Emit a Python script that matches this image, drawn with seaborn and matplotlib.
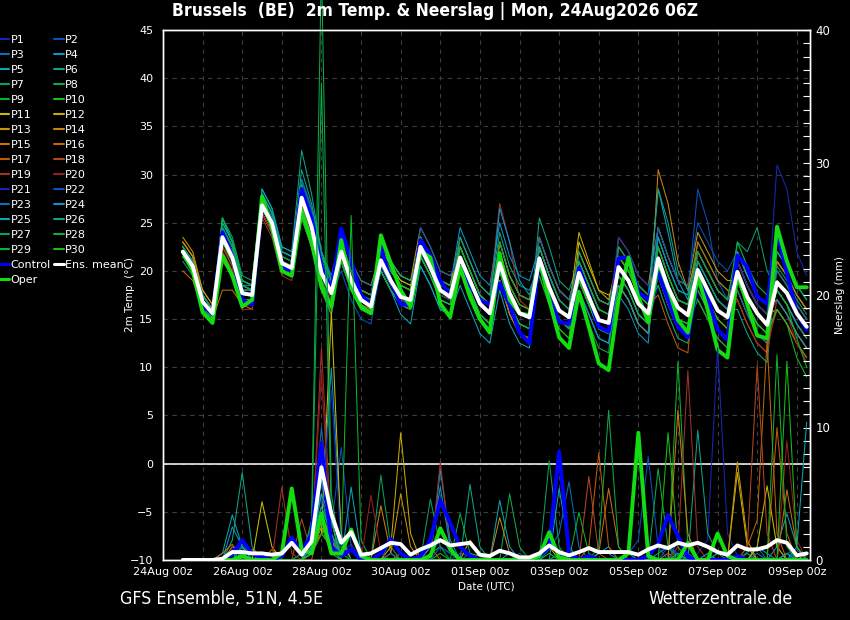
import numpy as np
import pandas as pd
import matplotlib
matplotlib.use("Agg")
import matplotlib.pyplot as plt
import matplotlib.dates as mdates
from matplotlib.ticker import MultipleLocator
from matplotlib.lines import Line2D
import seaborn as sns

# ---------------- data ----------------
TIMES = pd.date_range("2026-08-24 12:00", periods=64, freq="6h")
TICK_DATES = pd.to_datetime(["2026-08-24", "2026-08-26", "2026-08-28", "2026-08-30",
                             "2026-09-01", "2026-09-03", "2026-09-05", "2026-09-07",
                             "2026-09-09"])

T_P1 = [22,20.5,17,15.5, 24,22,18,18, 27.5,25.5,21.5,21, 28.5,25.5,21,18.5, 23,20,18,17.5, 20,18,16.5,16, 22.5,20.5,18,17.5, 20.5,18,15.5,14.5, 19,15.5,13.5,13, 22.5,19.5,17,16, 22,19.5,17,16.5, 19.5,18,15.5,14.5, 18.5,15.5,13,12.5, 21,19,17,16, 23,20.5,18.5,17.5, 21,19.5,17.5,16]
T_P2 = [22.5,21,17.5,16, 23.5,21.5,17.5,17.5, 26.5,24.5,20.5,20, 27.5,24.5,20,17.5, 21,18,16,15.5, 21,19,17.5,17, 23.5,21.5,19,18.5, 22.5,20,17.5,16.5, 23,19.5,17.5,17, 21.5,18.5,16,15, 19,16.5,14,13.5, 21.5,20,17.5,16.5, 23.5,20.5,18,17.5, 28.5,25,19,17, 21,18.5,16.5,15.5, 17,15.5,13.5,12]
T_P3 = [21.5,20,16.5,15, 24.5,22.5,18.5,18, 27,25,21,20.5, 26.5,23.5,19,16.5, 22,19,17,16.5, 22,20,18.5,18, 23,21,18.5,18, 20,17.5,15,14, 22,18.5,16.5,16, 23.5,20.5,18,17, 21,18.5,16,15.5, 18.5,17,14.5,13.5, 21.5,18.5,16,15.5, 19,17,15,14, 22,19.5,17.5,16.5, 18,16.5,14.5,13]
T_P4 = [22.5,21,17.5,16, 25,23,19,18.5, 28,26,22,21.5, 29.5,26.5,22,19.5, 21,18,16,15.5, 20,18,16.5,16, 23.5,21.5,19,18.5, 24.5,22,19.5,18.5, 25,21.5,19.5,19, 22.5,19.5,17,16, 18,15.5,13,12.5, 17.5,16,13.5,12.5, 24.5,21.5,19,18.5, 17,15,13,12, 21,18.5,16.5,15.5, 22,20.5,18.5,17]
T_P5 = [22,20.5,17,15.5, 23,21,17,17, 28,26,22,21.5, 28.5,25.5,21,18.5, 22,19,17,16.5, 20,18,16.5,16, 20.5,18.5,16,15.5, 18.5,16,13.5,12.5, 18,14.5,12.5,12, 22.5,19.5,17,16, 20,17.5,15,14.5, 22.5,21,18.5,17.5, 28.5,24,19,17, 22,20,18,17, 19,16.5,14.5,13.5, 16,14.5,12.5,11]
T_P6 = [22.5,21,17.5,16, 25.5,23.5,19.5,19, 28.5,26.5,22.5,22, 32.5,28,22,19, 22,19,17,16.5, 22,20,18.5,18, 23.5,21.5,19,18.5, 23.5,21,18.5,17.5, 20,16.5,14.5,14, 25.5,22.5,19,18, 21,18.5,16,15.5, 19.5,18,15.5,14.5, 19.5,16.5,14,13.5, 21,19,17,16, 16,13.5,11.5,10.5, 21,19.5,17.5,16]
T_P7 = [21.5,20,16.5,15, 24.5,22.5,18.5,18, 26,24,20,19.5, 28.5,25.5,21,18.5, 21,18,16,15.5, 23,21,19.5,19, 22.5,20.5,18,17.5, 21.5,19,16.5,15.5, 22,18.5,16.5,16, 20.5,17.5,15,14, 22,19.5,17,16.5, 21.5,20,17.5,16.5, 21.5,18.5,16,15.5, 18,16,14,13, 23,22,24.5,20, 18,16.5,14.5,13]
T_P8 = [22.5,21,17.5,16, 25.5,23,19,18.5, 27,25,21,20.5, 29,26,21.5,19, 21,18,16,15.5, 21,19,17.5,17, 21.5,19.5,17,16.5, 23.5,21,18.5,17.5, 19,15.5,13.5,13, 21.5,18.5,16,15, 17,14.5,12,11.5, 21.5,20,17.5,16.5, 18.5,15.5,13,12.5, 19,17,15,14, 21,18.5,16.5,15.5, 17,15.5,13.5,12]
T_P9 = [22,20.5,17,15.5, 24.5,22.5,18.5,18.5, 28,26,22,21.5, 27.5,24.5,20,17.5, 23,20,18,17.5, 22.5,20.5,19,18.5, 23.5,21.5,19,18.5, 20.5,18,15.5,14.5, 22,18.5,16.5,16, 19.5,16.5,14,13, 21,18.5,16,15.5, 20.5,19,16.5,15.5, 23.5,20.5,18,17.5, 23,21,19,18, 18,15.5,13.5,12.5, 19,17.5,15.5,14]
T_P10 = [21.5,20,16.5,15, 22.5,20.5,16.5,16.5, 27.5,25.5,21.5,21, 26.5,23.5,19,16.5, 22,19,17,16.5, 20.5,18.5,17,16.5, 23,21,18.5,18, 22.5,20,17.5,16.5, 20,16.5,14.5,14, 22.5,19.5,17,16, 19,16.5,14,13.5, 18.5,17,14.5,13.5, 22.5,19.5,17,16.5, 17,15,13,12, 22,19.5,17.5,16.5, 20,18.5,16.5,15]
T_P11 = [23,21.5,17.5,16, 24.5,22.5,18.5,18, 26.5,24.5,20.5,20, 26.5,23.5,19,16.5, 23,20,18,17.5, 22.5,20.5,19,18.5, 22,20,17.5,17, 21.5,19,16.5,15.5, 23,19.5,17.5,17, 20.5,17.5,15,14, 23,20.5,18,17.5, 18.5,17,14.5,13.5, 22.5,19.5,17,16.5, 22,20,18,17, 19,16.5,14.5,13.5, 21,19.5,17.5,16]
T_P12 = [23,21.5,18,16.5, 23.5,21.5,17.5,17.5, 26,24,20,19.5, 25.5,22.5,18,15.5, 24,21,19,18.5, 22,20,18.5,18, 23.5,21.5,19,18.5, 22.5,20,17.5,16.5, 19,15.5,13.5,13, 22.5,19.5,17,16, 24,21,18,17, 21.5,20,17.5,16.5, 19.5,16.5,14,13.5, 19,17,15,14, 21,18.5,16.5,15.5, 16,14.5,12.5,11]
T_P13 = [23.5,22,18,16.5, 24,22,18,18, 27,25,21,20.5, 26.5,23.5,19,16.5, 23,20,18,17.5, 23,21,19.5,19, 24.5,22.5,20,19.5, 20.5,18,15.5,14.5, 23,19.5,17.5,17, 21.5,18.5,16,15, 19,16.5,14,13.5, 23.5,22,19.5,18.5, 24.5,21.5,19,18.5, 24,22,20,19, 19,16.5,14.5,13.5, 19,17.5,15.5,14]
T_P14 = [23,21.5,17.5,16, 24,22,18,18, 26,24,20,19.5, 26,23,18.5,16, 21.5,18.5,16.5,16, 22,20,18.5,18, 23.5,21.5,19,18.5, 21.5,19,16.5,15.5, 20,16.5,14.5,14, 21.5,18.5,16,15, 22,19.5,17,16.5, 18.5,17,14.5,13.5, 30.5,27,21,18, 22,20,18,17, 20,17.5,15.5,14.5, 18,16.5,14.5,13]
T_P15 = [20,19,16,15, 18,18,16.5,16, 26,24,20,19.5, 26.5,23.5,19,16.5, 23,20,18,17.5, 20,18,16.5,16, 23.5,21.5,19,18.5, 21.5,19,16.5,15.5, 19,15.5,13.5,13, 23.5,20.5,18,17, 21,18.5,16,15.5, 19.5,18,15.5,14.5, 21.5,18.5,16,15.5, 23,21,19,18, 17,14.5,12.5,11.5, 21,19.5,17.5,16]
T_P16 = [21.5,20,16.5,15, 22,20,16,16, 26,24,20,19.5, 25.5,22.5,18,15.5, 22,19,17,16.5, 22,20,18.5,18, 22,20,17.5,17, 22.5,20,17.5,16.5, 22,18.5,16.5,16, 20.5,17.5,15,14, 21,18.5,16,15.5, 22.5,21,18.5,17.5, 19.5,16.5,14,13.5, 19,17,15,14, 22,19.5,17.5,16.5, 20,18.5,16.5,15]
T_P17 = [22.5,20.5,16.5,15, 21,19.5,16.5,16.5, 26,24,20,19.5, 26.5,23.5,19,16.5, 22,19,17,16.5, 22,20,18.5,18, 22.5,20.5,18,17.5, 20.5,18,15.5,14.5, 21,17.5,15.5,15, 23.5,20.5,18,17, 19,16.5,14,13.5, 21.5,20,17.5,16.5, 17.5,14.5,12,11.5, 22,20,18,17, 21,18.5,16.5,15.5, 17,15.5,13.5,12]
T_P18 = [22,20.5,17,15.5, 22.5,21,17,17, 26.5,24.5,20.5,20, 26.5,23.5,19,16.5, 23,20,18,17.5, 21,19,17.5,17, 23.5,21.5,19,18.5, 20.5,18,15.5,14.5, 23,19.5,17.5,17, 20.5,17.5,15,14, 21,18.5,16,15.5, 20.5,19,16.5,15.5, 22.5,19.5,17,16.5, 18,16,14,13, 18,15.5,13.5,12.5, 16,14.5,12.5,11]
T_P19 = [21.5,20,16.5,15, 22.5,20.5,16.5,16.5, 25.5,23.5,19.5,19, 27,24,19.5,17, 21,18,16,15.5, 22,20,18.5,18, 22.5,20.5,18,17.5, 23.5,21,18.5,17.5, 27,23,17,16, 20.5,17.5,15,14, 20,17.5,15,14.5, 21.5,20,17.5,16.5, 20.5,17.5,15,14.5, 20,18,16,15, 17,14.5,12.5,11.5, 17,15.5,13.5,12]
T_P20 = [22,20,16.5,15.5, 22,20,16,16, 26,24,20,19.5, 26.5,23.5,19,16.5, 23,20,18,17.5, 21,19,17.5,17, 21.5,19.5,17,16.5, 22.5,20,17.5,16.5, 22,18.5,16.5,16, 22.5,19.5,17,16, 18,15.5,13,12.5, 18.5,17,14.5,13.5, 22.5,19.5,17,16.5, 17,15,13,12, 21,18.5,16.5,15.5, 17,15.5,12.5,10.5]
T_P21 = [22,20.5,17,15.5, 24,22,18,18, 28,26,22,21.5, 28.5,25.5,21,18.5, 21,18,16,15.5, 21,19,17.5,17, 22,20,17.5,17, 22.5,20,17.5,16.5, 20,16.5,14.5,14, 20.5,17.5,15,14, 21,18.5,16,15.5, 23.5,22,19.5,18.5, 21.5,18.5,16,15.5, 22,20,18,17, 21,18.5,16.5,15.5, 31,28.5,22,19.5]
T_P22 = [22.5,21,17.5,16, 24.5,22.5,18.5,18, 27.5,25.5,21.5,21, 27.5,24.5,20,17.5, 20,17,15,14.5, 20.5,18.5,17,16.5, 24.5,22.5,20,19.5, 21.5,19,16.5,15.5, 21,17.5,15.5,15, 20.5,17.5,15,14, 18,15.5,13,12.5, 22.5,21,18.5,17.5, 24.5,21.5,19,18.5, 25,23,21,20, 22,19.5,17.5,16.5, 18,16.5,14.5,13]
T_P23 = [22,20.5,17,15.5, 24.5,22.5,18.5,18.5, 27,25,21,20.5, 29.5,26.5,22,19.5, 24,21,19,18.5, 21,19,17.5,17, 21.5,19.5,17,16.5, 20.5,18,15.5,14.5, 21,17.5,15.5,15, 23.5,20.5,18,17, 20,17.5,15,14.5, 19.5,18,15.5,14.5, 19.5,16.5,14,13.5, 21,19,17,16, 18,15.5,13.5,12.5, 20,18.5,16.5,15]
T_P24 = [21.5,20,16.5,15, 25.5,23,18.5,18, 28,26,22,21.5, 28.5,25.5,21,18.5, 21,18,16,15.5, 22,20,18.5,18, 21.5,19.5,17,16.5, 22.5,20,17.5,16.5, 26.5,23,19,17.5, 21.5,18.5,16,15, 21,18.5,16,15.5, 19.5,18,15.5,14.5, 23.5,20.5,18,17.5, 21,19,17,16, 19,16.5,14.5,13.5, 22,20.5,18.5,17]
T_P25 = [22.5,21,17.5,16, 25,23,19,18.5, 28.5,26.5,22.5,22, 27.5,24.5,20,17.5, 22,19,17,16.5, 20,18,15.5,14.5, 20.5,18.5,16,15.5, 20.5,18,15.5,14.5, 20,16.5,14.5,14, 22.5,19.5,17,16, 18,15.5,13,12.5, 18.5,17,14.5,13.5, 22.5,19.5,17,16.5, 20,18,16,15, 22,19.5,17.5,16.5, 17,15.5,13.5,12]
T_P26 = [22,20.5,17,15.5, 24,22,18,18, 28,26,22,21.5, 30.5,27,22,19, 22.5,19.5,17.5,17, 23,21,19.5,19, 21.5,19.5,17,16.5, 23.5,21,18.5,17.5, 24,20.5,18.5,18, 20.5,17.5,15,14, 19,16.5,14,13.5, 21.5,20,17.5,16.5, 28.5,25,20,18, 18,16,14,13, 20,17.5,15.5,14.5, 18,16.5,14.5,13]
T_P27 = [21,19.5,16,15, 23.5,21.5,17.5,17.5, 26.5,24.5,20.5,20, 25.5,22.5,18,15.5, 21,18,16,15.5, 21,19,17.5,17, 23.5,21.5,19,18.5, 21.5,19,16.5,15.5, 20,16.5,14.5,14, 22.5,19.5,17,16, 22,19.5,17,16.5, 20.5,19,16.5,15.5, 20.5,17.5,15,14.5, 21,19,17,16, 19,16.5,14.5,13.5, 20.5,19,17,15.5]
T_P28 = [22.5,21,17.5,16, 24.5,22.5,18.5,18, 27,25,21,20.5, 26.5,23.5,19,16.5, 23,20,18,17.5, 20,18,16.5,16, 22.5,20.5,18,17.5, 22.5,20,17.5,16.5, 23,19.5,17.5,17, 20.5,17.5,15,14, 19,16.5,14,13.5, 22.5,21,18.5,17.5, 20.5,17.5,15,14.5, 17,15,13,12, 19,16.5,14.5,13.5, 22,20.5,18.5,17]
T_P29 = [22,20.5,17,15.5, 25.5,23,19,18.5, 27.5,25.5,21.5,21, 29,26,21.5,19, 23,20,18,17.5, 22,20,18.5,18, 23.5,21.5,19,18.5, 20.5,18,15.5,14.5, 20,16.5,14.5,14, 21.5,18.5,16,15, 21,18.5,16,15.5, 19.5,18,15.5,14.5, 22.5,19.5,17,16.5, 22,20,18,17, 23,20.5,18.5,17.5, 18,16.5,13,10]
T_P30 = [21.5,20,16.5,15, 23,21,17,17, 26.5,24.5,20.5,20, 26.5,23.5,19,16.5, 21,18,16,15.5, 22,20,18.5,18, 21.5,19.5,17,16.5, 22.5,20,17.5,16.5, 22,18.5,16.5,16, 19.5,16.5,14,13, 19,16.5,14,13.5, 21.5,20,17.5,16.5, 20.5,17.5,15,14.5, 19,17,15,14, 19,16.5,14.5,13.5, 16,14.5,11,9]
T_CTRL = [22,20.5,16.5,15.5, 24,21.5,17,16.5, 27,25,20.5,20, 28.5,25.5,20.5,18, 24.4,21,17.5,16.5, 22.5,19,16.5,16.5, 23.2,21.6,19,17.5, 20.5,18.5,17,16.5, 18.7,16.5,13.6,12.5, 21.1,17.2,14.7,14.5, 20.3,17.5,14.2,13.7, 21.3,21.4,17.8,17, 19.9,17,14.2,13.1, 19,17.3,13.9,12.8, 21.6,20.4,17.3,16.6, 24,19.8,15.6,13.9]
T_OPER = [22,20,15.7,14.6, 21.6,19.5,16.3,17, 27.7,24.5,20,19.5, 26.3,23,18.3,16.3, 23.2,18.3,16.3,15.6, 23.7,20.8,18,16.3, 22,21.4,16.6,15.2, 20.4,17.3,15,13.6, 21.8,17,15.6,15.4, 21.1,17,13.1,12, 17.8,14.2,10.4,9.7, 17,21.4,17.3,14.7, 20.9,18.3,14.9,13.6, 19.4,16,11.8,11, 19.8,16.5,13.3,13, 24.6,21,18.3,18.3]
T_MEAN = [22.0,20.5,16.8,15.6, 23.5,21.4,17.7,17.5, 26.8,25.0,20.8,20.3, 27.6,24.6,19.8,17.7, 22.0,19.0,17.0,16.3, 21.1,19.0,17.3,17.0, 22.5,20.4,18.0,17.3, 21.4,19.0,16.6,15.6, 20.8,17.7,15.6,15.2, 21.3,18.3,15.9,15.2, 19.8,17.3,14.9,14.6, 20.4,19.0,16.6,15.6, 21.3,18.3,16.2,15.4, 20.1,18.0,15.9,15.2, 19.9,17.3,15.6,14.4, 18.8,17.7,15.6,14.2]

R_P1 = [0,0,0,0, 0,0.3,0.8,0.2, 0,0,0,0, 0.5,1.0,3.0,1.5, 0.5,1.2,0,0, 0,0,0,0, 0,0.5,1.5,0.8, 0,0,0,0, 0,0,0,0, 0,0,0,0, 0,0.4,0,0, 0,0,0,0, 0,0,0,0, 0.5,1.5,16,2.0, 0.3,0,0,0, 0,0,0,0]
R_P2 = [0,0,0,0, 0,0,1.2,0.5, 0,0,0,0, 0,0.8,6.0,2.5, 8.5,1.0,0,0, 0,0,0,0, 0,0,0,0, 0.5,0.3,0,0, 0,0,0,0, 0,0,0,0, 0,0,0,0, 0,0.5,1.5,7.8, 1.0,0,0,0, 0,0,0,0, 0,0,0,0, 0,0.5,0.8,0]
R_P3 = [0,0,0,0, 0,0,0,0, 0.5,0,0,0, 0,2.0,10,3.0, 0,0,0,0, 0,1.5,0.5,0, 0,0,0,0, 0,0,0,0, 0,0,0,0, 0,0.8,2.0,5.9, 1.0,0,0,0, 0,0,0,0, 0,0,0,0, 0,0,0,0, 0,0.6,1.0,0, 0,0,0,0]
R_P4 = [0,0,0,0, 0,2.5,1.0,0, 0,0,0,0, 0,1.0,4.0,14.5, 2.0,0,0,0, 0,0,0,0, 0,0,6.8,1.5, 0,0,0,0, 0,0.5,0,0, 0,0,0,0, 0,0,0,0, 0,0,0,0, 0.5,1.0,0.3,0, 0,0,0,0, 0,0,0,0, 1.0,3.5,1.0,0]
R_P5 = [0,0,0,0, 0.5,3.4,1.0,0, 0,0,0,0, 0,1.5,8.0,2.0, 0,5.5,0.5,0, 0,0,0,0, 0,0,0,0, 0,0,0,0, 4.5,1.0,0,0, 0,0,0,0, 0,0,0.5,1.0, 0,0,0,0, 0,0,0,0, 0,0,0.5,0.3, 0,0,0,0, 0,0,0,0]
R_P6 = [0,0,0,0, 0,1.5,6.6,1.0, 0,0,0,0, 0.5,2.5,5.0,1.0, 0,0,0,0, 0,0,0,0, 0,0.5,1.0,0.5, 0,0,0,0, 0,0,0,0, 0,0,0,0, 0,0,0,0, 0,0,0,0, 0,0,0,0, 9.8,2.0,0.5,0, 0,0,1.0,0.5, 0,0,0,0]
R_P7 = [0,0,0,0, 0,0,0.5,0, 0,0,0,0, 0,0.5,3.5,1.5, 0,0,0,0, 6.4,1.0,0,0, 0,0,0,0, 0,0,0,0, 0,0,0,0, 0,7.5,1.0,0, 0,0,0,0, 0,0,0,0, 0,0,0.5,0, 0,0,0,0, 0,0,0,0, 0,0,0,0]
R_P8 = [0,0,0,0, 0,0.5,0,0, 0,0,0,0, 0,3.0,45,5.0, 0,0,0,0, 0,0,0,0, 0,0,0,0, 0,0,0,0, 0,5.0,1.0,0, 0,0,0,0, 0,0,0,0, 0,0,0,0, 6.9,1.0,0,0, 0,0,0,0, 0,0,0,0, 0,0.5,0,0]
R_P9 = [0,0,0,0, 0,0,0,0, 0,0,0,0, 0,1.0,2.5,0.5, 1.0,26,1.5,0, 0,0,0,0, 0,0,0,0, 0,0.5,0.3,0, 0,0,0,0, 0,0,0,0, 0,0,0,0, 0,0,0,0, 0,0,15,1.0, 0,0,0,0, 0,0.5,0,0, 0,0,0,0]
R_P10 = [0,0,0,0, 0,0,0,0, 0,0,0,0, 0,1.5,4.0,2.0, 0.5,0,0,0, 0,0,0,0, 0,0,0.5,0, 0,0,0,0, 0,0,0,0, 0,0,0,0, 0,0,0,0, 0,0,0,0, 0,9.6,1.0,0, 0,0,0,0, 0,0,0,0, 0,0,0.5,0.3]
R_P11 = [0,0,0,0, 0,0,0,0, 4.4,1.0,0,0, 0,0.5,2.0,18.7, 1.5,0,0,0, 0,0,0,0, 0,0,0,0, 0,0,0,0, 0,0,0,0, 0,0,0,0, 0,0,0,0, 0,0,0,0, 0,0,0,0, 0,0,0,0, 0,0,1.0,5.6, 1.0,0,0,0]
R_P12 = [0,0,0,0, 0,0,0,0, 0,0,0,0, 0,0.5,3.0,1.0, 0,0,0,0, 0,1.0,9.6,2.0, 0,0,0,0, 0,0,0,0, 0,0,0,0, 0.5,1.0,0,0, 0,0,0,0, 0,0,0,0, 0,0,0,0, 0,0,0,0, 6.6,1.0,0,0, 0,0,0,0]
R_P13 = [0,0,0,0, 0,0,0.5,0.8, 0,0,0,0, 0,1.0,2.0,3.0, 0,0,0,0, 0,0.5,5.0,1.0, 0,0,0,0, 0,1.5,0.5,0, 0,0,0,0, 0,0,0,0, 0,0,0,0, 0,0,0,0, 0,0,0,0, 0,0,0,0, 7.4,1.5,0,0, 0,0,0,0.5]
R_P14 = [0,0,0,0, 0,1.0,0.5,0, 0,0,0,0, 0,0.5,2.5,1.5, 0,0,0,0, 4.1,0.5,0,0, 0,0,0,0, 0,0,0,0, 3.2,0.5,0,0, 0,0,0,0, 0,0,0,0, 0,0,0,0, 0,0,11.3,2.0, 0,0,0,0, 0,0,0,0, 0,0,0,0]
R_P15 = [0,0,0,0, 0.5,1.2,0,0, 0,0,0,0, 0,1.0,3.0,2.0, 0,0,0,0, 0,0,0,0, 0,0,0,0, 0,0,0.5,0, 0,0,0,0, 0,0,0,0, 0,0,0.5,5.4, 1.0,0,0,0, 0,0,0,0, 0,0,0,0, 0,0,0,0, 0,5.3,1.0,0]
R_P16 = [0,0,0,0, 0,0,0,0, 0,0.8,0,0, 0,0.5,2.0,1.0, 0,0,0,0, 0,0,0,0, 0,1.0,0,0, 0,0,0,0, 0,0,0,0, 0,0,0,0, 0,0,0,0, 0,0,0,0, 0,0.5,0,0, 0,0,0,0, 0,1.0,3.0,16.6, 2.0,0,0,0]
R_P17 = [0,0,0,0, 0,0,0,0, 0,0,0,0, 0,0,3.0,1.0, 0,0,0,0, 0,0,0.5,0, 0,0,0,0, 0,0,0,0, 0,0,0,0, 0,0,0,0, 0,1.0,8.1,1.0, 0,0,0,0, 0,0,0,0, 0,0,0,0, 0,0,0,0, 10,2.0,0,0]
R_P18 = [0,0,0,0, 0,0,0,0, 0,0,0,0, 3.1,0.5,2.0,1.0, 0,0,0,0, 0,0,0,0, 0,0,0,0, 0,0,0,0, 0,0,0,0, 0,0,0,0, 0,6.3,0.5,0, 0,0,0,0, 0,0,0,0, 0,0,0,0, 0,1.0,14.7,2.0, 0,0,0,0]
R_P19 = [0,0,0,0, 0,0,0,0, 0,0,5.5,0.5, 0,1.0,16,2.0, 0,0,0,0, 0,0,0,0, 0,0,7.4,1.0, 0,0,0,0, 0,0,0,0, 0,0,0,0, 0,0,0,0, 0,0,0,0, 0,0,1.0,14.3, 1.0,0,0,0, 0,0,0,0, 0,0,0,0]
R_P20 = [0,0,0,0, 0,0,0,0, 0,0,0,0, 0,1.5,14,1.0, 0,0,0,4.9, 0.5,0,0,0, 0,0,0,0, 0,0,0,0, 0,0,0,0, 0,0,0,0, 0,0,0,0, 0,0,0,0, 0,0,0,0, 0,0,0,0, 0,0,0,0, 0,9.0,1.5,0]
R_P21 = [0,0,0,0, 0,0,0,0, 0,0,0,0, 0,0.5,4.0,12.8, 1.0,0,0,0, 0,0,0,0, 0,0,0,0, 0,0.5,0,0, 0,0,0,0, 0,0,0,0, 0,0,0,0, 0,0,0.5,0, 0,0,0,0, 0,0,0,0, 0,0,0,0, 0,0,0.5,0]
R_P22 = [0,0,0,0, 0,0.8,0.3,0, 0,0,0,0, 0,1.0,5.0,2.0, 0,0,0,0, 0,0,0,0, 0,0,1.0,0.5, 0,0,0,0, 0,0,0,0, 0,0,0.5,0.3, 0,0,0,0, 0,0,0,0, 0,1.0,0.5,0, 0,0,0,0, 0,0,0,0, 0,0,0,0]
R_P23 = [0,0,0,0, 0,0,0,0, 0,0,0,0, 0,0.5,3.0,4.0, 0,0,0,0, 0,0.5,0,0, 0,0,0,0, 0,0,0,0, 0,0,0.5,0, 0,0,0,0, 0,0,0,0, 0,0,0,0, 0,0,1.5,0.5, 0,0,0,0, 0,0,0.5,0, 0,0,0,0]
R_P24 = [0,0,0,0, 0,0.5,0,0, 0,0,0,0, 0,2.0,6.0,3.0, 0,0,0,0, 0,0,0,0, 0,1.0,5.5,1.0, 0,0,0,0, 0,0,0,0, 0,0,0,0, 0,0,0.5,0.5, 0,0,0,0, 0,0,0,0, 0,0,0,0, 0,0,0,0, 0,0.5,0,0]
R_P25 = [0,0,0,0, 0,0,0.5,0, 0,0,0,0, 0,1.0,5.0,3.0, 0,0,0,0, 0,0,0,0, 0,0,0,0, 0,0,0,0, 0,0,0,0, 0,0,5.4,1.0, 0,0,0,0, 0,0,0,0, 0,0,0,0, 0,0.5,0,0, 0,0,0,0, 0,0,1.0,10.4]
R_P26 = [0,0,0,0, 0,0,1.0,0.5, 0,0,0,0, 0,1.5,4.0,2.0, 0,0,0,0, 0,0,0,0, 0,0,0,0, 0,5.7,1.0,0, 0,0,0,0, 0,0,0,0, 0,0,0,0, 0,0.5,0,0, 0,0,0.5,0, 0,0,0,0, 0,0,0,0, 0,0,0,0]
R_P27 = [0,0,0,0, 0,0,0,0, 0,0,0,0, 0,0.5,3.0,1.0, 0,0,0,0, 0,0,0,0, 0,4.6,1.0,0, 0,0,0,0, 0,0,0,0, 0,0,0.5,0, 0,0,0,0, 0,0,0,0, 0,0,0,0, 0,0,0.5,0.5, 0,0,0,0, 0,0,0,0]
R_P28 = [0,0,0,0, 0,0,0,0, 0,0,0,0, 0,2.0,36,3.0, 0,0,0,0, 0,0,0,0, 0,0,0,0, 3.5,0.5,0,0, 0,0,0,0, 0,0,0,0, 0,0,1.0,11.3, 1.0,0,0,0, 0,0,0,0, 0,0,0,0, 0,0,0,0, 0,0,0,0]
R_P29 = [0,0,0,0, 0,0,0,0, 0,0,0,0, 0,0.5,2.0,1.0, 0,0,0,0, 0,0,0,0, 0,0,0,0, 0,0,0,0, 0,0,0,0, 0,0,0,0, 3.6,0.5,0,0, 0,0,0,0, 0,0,0,0, 0,0,0,0, 0,0,0,0, 15.5,1.0,0,0]
R_P30 = [0,0,0,0, 0,0,0,0, 0,0,0,0, 0,0.5,3.0,0.5, 0,0,0,0, 0,0,0,0, 0,0,0,0, 0,0,0,0, 0,0,0,0, 0,0.5,0,0, 0,0,0,0, 0,0,0,0, 0,0,0,0, 0,0,0,0, 0,0,0,0, 0,15,1.0,0]
R_CTRL = [0,0,0,0, 0,0.5,1.5,0.5, 0.2,0,0.3,1.7, 0.5,2.0,8.8,1.0, 0.3,0.8,0,0, 0.5,1.6,0.5,0, 0.3,1.5,4.5,2.8, 1.0,0.3,0,0, 0,0,0,0, 0.3,1.0,8.2,0.5, 0,0.3,0,0, 0,0,0,0.3, 1.2,3.4,1.8,0.2, 0,0,0,0, 0.3,0,0,0, 0,0,0,0]
R_OPER = [0,0,0,0, 0,0,0.3,0, 0,0,0.5,5.4, 0.8,0.5,3.5,0.5, 0.5,2.3,0.3,0, 0,0,0,0, 0,0.3,2.4,0.8, 0,0,0,0, 0,0,0,0, 0.3,2.1,0.2,0, 0,0,0,0, 0,0.5,9.6,0.3, 0,0,0,1.3, 0,0,2.0,0.3, 0,0,0,0, 0,0,0,0]
R_MEAN = [0,0,0,0, 0.1,0.6,0.6,0.5, 0.5,0.4,0.5,1.3, 0.4,1.4,7.0,3.5, 1.3,2.1,0.4,0.5, 0.9,1.3,1.2,0.4, 0.8,1.1,1.5,1.1, 1.2,1.3,0.4,0.3, 0.7,0.5,0.2,0.2, 0.5,1.1,0.6,0.35, 0.6,0.9,0.6,0.6, 0.6,0.6,0.4,0.8, 1.1,0.9,1.3,1.1, 1.3,1.0,0.6,0.4, 1.1,0.8,0.8,1.0, 1.5,1.3,0.35,0.5]

MEMBER_LABELS = [f"P{i}" for i in range(1, 31)]
BASE_COLORS = ["#1428b4", "#0a50be", "#0a6eb9", "#0a96c8", "#0aa5b4", "#0aa587", "#0aa05f",
               "#0aaa46", "#0ab428", "#14be14", "#c8be00", "#c8aa00", "#c8960a", "#c88214",
               "#c86e0a", "#be640a", "#be5a0a", "#b4461e", "#a03228", "#961e1e"]
MEMBER_COLORS = BASE_COLORS + BASE_COLORS[:10]
CTRL_COLOR, OPER_COLOR, MEAN_COLOR = "#0000ff", "#11dd11", "#ffffff"

TEMPS = [T_P1, T_P2, T_P3, T_P4, T_P5, T_P6, T_P7, T_P8, T_P9, T_P10, T_P11, T_P12, T_P13,
         T_P14, T_P15, T_P16, T_P17, T_P18, T_P19, T_P20, T_P21, T_P22, T_P23, T_P24, T_P25,
         T_P26, T_P27, T_P28, T_P29, T_P30]
RAINS = [R_P1, R_P2, R_P3, R_P4, R_P5, R_P6, R_P7, R_P8, R_P9, R_P10, R_P11, R_P12, R_P13,
         R_P14, R_P15, R_P16, R_P17, R_P18, R_P19, R_P20, R_P21, R_P22, R_P23, R_P24, R_P25,
         R_P26, R_P27, R_P28, R_P29, R_P30]

# ---------------- figure ----------------
sns.set_theme(style="dark")
plt.rcParams["font.family"] = ["DejaVu Sans"]
plt.rcParams["axes.facecolor"] = "black"
plt.rcParams["figure.facecolor"] = "black"

fig = plt.figure(figsize=(8.5, 6.2), dpi=100, facecolor="black")
ax = fig.add_axes([163 / 850, 60 / 620, 647 / 850, 530 / 620])
ax.set_facecolor("black")
ax2 = ax.twinx()

THIN, THICK = 0.75, 2.8

for lab, col, vals in zip(MEMBER_LABELS, MEMBER_COLORS, TEMPS):
    sns.lineplot(x=TIMES, y=vals, ax=ax, color=col, linewidth=THIN, legend=False)
sns.lineplot(x=TIMES, y=T_CTRL, ax=ax, color=CTRL_COLOR, linewidth=THICK, legend=False)
sns.lineplot(x=TIMES, y=T_OPER, ax=ax, color=OPER_COLOR, linewidth=THICK, legend=False)
sns.lineplot(x=TIMES, y=T_MEAN, ax=ax, color=MEAN_COLOR, linewidth=THICK, legend=False)
ax.axhline(0, color="white", lw=1.1, zorder=1.5)

for lab, col, vals in zip(MEMBER_LABELS, MEMBER_COLORS, RAINS):
    sns.lineplot(x=TIMES, y=vals, ax=ax2, color=col, linewidth=THIN, legend=False)
    if max(vals) > 40:
        ax2.lines[-1].set_clip_on(False)
sns.lineplot(x=TIMES, y=R_CTRL, ax=ax2, color=CTRL_COLOR, linewidth=THICK, legend=False)
sns.lineplot(x=TIMES, y=R_OPER, ax=ax2, color=OPER_COLOR, linewidth=THICK, legend=False)
sns.lineplot(x=TIMES, y=R_MEAN, ax=ax2, color=MEAN_COLOR, linewidth=THICK, legend=False)

# axes limits / ticks
ax.set_xlim(pd.Timestamp("2026-08-24 00:00"), pd.Timestamp("2026-09-09 08:00"))
ax.set_ylim(-10, 45)
ax.set_yticks(range(-10, 46, 5))
ax2.set_ylim(0, 40)
ax2.set_yticks([0, 10, 20, 30, 40])
ax2.yaxis.set_minor_locator(MultipleLocator(1))

ax.set_xticks(TICK_DATES)
ax.xaxis.set_major_formatter(mdates.DateFormatter("%d%b %Hz"))
ax.xaxis.set_minor_locator(mdates.DayLocator())

grid_kw = dict(color="#3c3c3c", linestyle=(0, (4, 4)), linewidth=0.8)
ax.grid(True, axis="x", which="both", **grid_kw)
ax.grid(True, axis="y", which="major", **grid_kw)
ax2.grid(False)
ax.set_axisbelow(True)

ax.tick_params(axis="y", length=0, pad=7, labelsize=8, colors="white")
ax.tick_params(axis="x", which="both", length=0, pad=5, labelsize=8, colors="white")
ax2.tick_params(axis="y", which="both", direction="in", length=5, width=0.8,
                color="white", labelcolor="white", labelsize=8.5, pad=4)

for a in (ax, ax2):
    for s in a.spines.values():
        s.set_color("white")
        s.set_linewidth(1.0)

ax.set_xlabel("Date (UTC)", color="white", fontsize=7.5, labelpad=3)
ax.set_ylabel("2m Temp. (°C)", color="white", fontsize=7.5, labelpad=-4)
ax2.set_ylabel("Neerslag (mm)", color="white", fontsize=7.5, labelpad=3)

# title & footer
fig.text(0.512, 0.982, "Brussels  (BE)  2m Temp. & Neerslag | Mon, 24Aug2026 06Z",
         ha="center", va="center", color="white", fontsize=12.5, fontweight="bold",
         fontstretch="condensed")
fig.text(120 / 850, 1 - 599 / 620, "GFS Ensemble, 51N, 4.5E", ha="left", va="center",
         color="white", fontsize=12.8, fontstretch="condensed")
fig.text(793 / 850, 1 - 599 / 620, "Wetterzentrale.de", ha="right", va="center",
         color="white", fontsize=12.8, fontstretch="condensed")

# legend (two columns, row-wise order P1 P2 / P3 P4 ...)
col1 = [(MEMBER_LABELS[i], MEMBER_COLORS[i], 1.5) for i in range(0, 30, 2)]
col1 += [("Control", CTRL_COLOR, 2.2), ("Oper", OPER_COLOR, 2.2)]
col2 = [(MEMBER_LABELS[i], MEMBER_COLORS[i], 1.5) for i in range(1, 30, 2)]
col2 += [("Ens. mean", MEAN_COLOR, 2.2)]
entries = col1 + col2
handles = [Line2D([0], [0], color=c, lw=w) for _, c, w in entries]
labels = [l for l, _, _ in entries]
fig.legend(handles, labels, ncol=2, loc="upper left", bbox_to_anchor=(0.0, 0.943),
           frameon=False, fontsize=8, handlelength=0.85, handletextpad=0.1,
           columnspacing=0.3, labelspacing=0.45, labelcolor="white",
           borderaxespad=0, borderpad=0)

fig.savefig("out.png", dpi=100, facecolor="black")
